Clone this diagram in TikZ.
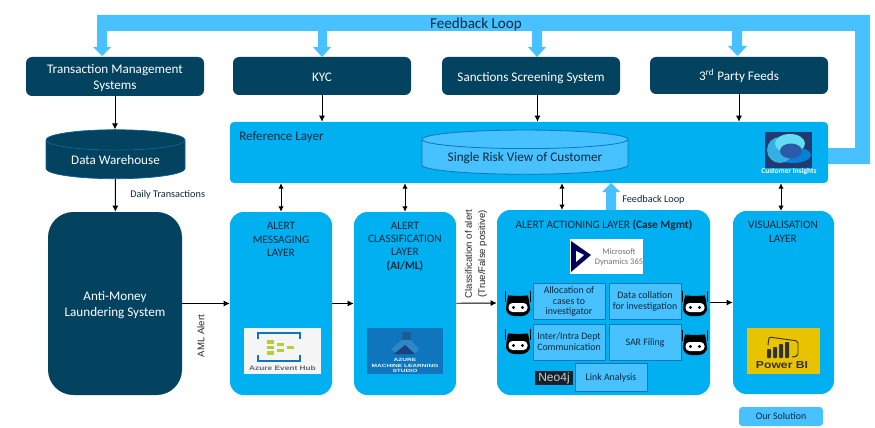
\documentclass[tikz,border=0pt]{standalone}
\usepackage{fontspec}
\setmainfont{Carlito}
\newfontfamily\arialfont{Liberation Sans}
\usetikzlibrary{shapes.geometric,arrows.meta}
\definecolor{navybox}{HTML}{03435F}
\definecolor{layerblue}{HTML}{00B0F0}
\definecolor{loopblue}{HTML}{47C1FF}
\definecolor{edgeblue}{HTML}{0F75BD}
\definecolor{labeltext}{HTML}{10283A}
\definecolor{cloudback}{HTML}{203A72}
\definecolor{cloudlow}{HTML}{0A7FD8}
\definecolor{cloudleft}{HTML}{34B0E5}
\definecolor{cloudtop}{HTML}{63DDF3}
\definecolor{cloudhole}{HTML}{2A5BA8}
\definecolor{neoback}{HTML}{14202C}
\definecolor{hubgreen}{HTML}{B5CF2E}
\definecolor{studiotop}{HTML}{1A5E98}
\definecolor{studioleft}{HTML}{2C86C8}
\definecolor{studiolow}{HTML}{1B3F80}
\definecolor{biyellow}{HTML}{E8C400}
\newcommand\dropped[2][1.5pt]{\raisebox{-#1}[\height][\depth]{\begin{tabular}{@{}c@{}}#2\end{tabular}}}
\tikzset{
  wh/.style 2 args={minimum width=#1*0.75pt, minimum height=#2*0.75pt, inner sep=0pt},
  sourcebox/.style={rectangle, rounded corners=4.5pt, fill=navybox, text=white, align=center, font=\fontsize{9.85}{12}\selectfont},
  layerbox/.style={rectangle, fill=layerblue},
  stepbox/.style={rectangle, fill=loopblue, draw=edgeblue, line width=0.7pt, align=center, text=labeltext, font=\fontsize{7.4}{7.9}\selectfont},
  title/.style={align=center, text=labeltext, inner sep=0pt, font=\fontsize{8.5}{10.1}\selectfont},
  note/.style={text=labeltext, inner sep=0pt, font=\fontsize{7.7}{9.6}\selectfont},
  sidenote/.style={text=black!85, inner sep=0pt, align=center, font=\arialfont\fontsize{7.2}{9.8}\selectfont},
  flow/.style={-{Latex[length=4.5pt,width=4.5pt]}, line width=0.7pt, black},
  both/.style={{Latex[length=4pt,width=4pt]}-{Latex[length=4pt,width=4pt]}, line width=0.7pt, black},
  fatarrow/.style={fill=loopblue, draw=none},
  logo/.style={rectangle, inner sep=0pt},
  bot/.pic={
    \draw[black, line width=0.7pt] (-12.5,-13) -- (-12.5,-2);
    \draw[black, line width=0.7pt] (12.5,-13) -- (12.5,-2);
    \fill[black, rounded corners=6pt] (-12,12) -- (-12,-1) .. controls (-10,-8) and (10,-8) .. (12,-1) -- (12,12) -- cycle;
    \fill[white, rounded corners=3pt] (-9.5,-1) rectangle (9.5,8);
    \fill[black] (-4.5,3.5) circle (1.6);
    \fill[black] (4.5,3.5) circle (1.6);
  }
}
\begin{document}
\begin{tikzpicture}[x=0.75pt,y=-0.75pt]
  \useasboundingbox (0,0) rectangle (875,428);

  \fill[fatarrow] (97,15) -- (870,15) -- (870,164) -- (828,164) -- (828,148) -- (855,148) -- (855,31) -- (97,31) -- cycle;
  \fill[fatarrow] (97,31) -- (107,31) -- (107,47) -- (111,47) -- (102,56) -- (93,47) -- (97,47) -- cycle;
  \fill[fatarrow] (318,31) -- (327,31) -- (327,47) -- (331,47) -- (322,57) -- (313,47) -- (318,47) -- cycle;
  \fill[fatarrow] (532,31) -- (542,31) -- (542,47) -- (546,47) -- (537,57) -- (528,47) -- (532,47) -- cycle;
  \fill[fatarrow] (732,31) -- (742,31) -- (742,46) -- (747,46) -- (737.5,56) -- (728,46) -- (732,46) -- cycle;
  \node[note, font=\fontsize{11.3}{12}\selectfont] (looplabel) at (476,24) {Feedback Loop};

  \node[sourcebox, wh={178}{39}] (tms) at (115,76.5) {\dropped{Transaction Management\\Systems}};
  \node[sourcebox, wh={178}{38}] (kyc) at (322,76) {\dropped{KYC}};
  \node[sourcebox, wh={178}{38}] (sanctions) at (531,76) {\dropped{Sanctions Screening System}};
  \node[sourcebox, wh={178}{37}] (feeds) at (739,75.5) {\dropped{3\textsuperscript{rd} Party Feeds}};

  \node[cylinder, shape border rotate=90, aspect=0.23, cylinder uses custom fill, cylinder body fill=navybox, cylinder end fill=navybox, draw=edgeblue!60!navybox, line width=0.5pt, text=white, wh={139}{49}, font=\fontsize{9.85}{12}\selectfont] (warehouse) at (115.5,159.5) {Data Warehouse};
  \node[rectangle, rounded corners=19pt, fill=navybox, text=white, align=center, wh={134}{183}, font=\fontsize{9.85}{12}\selectfont] (aml) at (115,303.5) {\dropped{Anti-Money\\Laundering System}};

  \node[layerbox, rounded corners=3pt, wh={598}{61}] (reference) at (529,152.5) {};
  \node[note, anchor=west, font=\fontsize{9.8}{10}\selectfont] (reflabel) at (239,137) {Reference Layer};
  \node[cylinder, shape border rotate=90, aspect=0.12, cylinder uses custom fill, cylinder body fill=loopblue, cylinder end fill=loopblue, draw=edgeblue, line width=0.6pt, text=labeltext, wh={206}{39}, font=\fontsize{9.9}{12}\selectfont] (riskview) at (525,157) {\dropped[0.75pt]{Single Risk View of Customer}};

  \node[logo, fill=cloudback, wh={47}{36}] (insights) at (788.5,150) {};
  \fill[cloudlow] (793,155) ellipse (18 and 8);
  \fill[cloudleft] (780,150) circle (13);
  \fill[cloudtop] (790,143.5) ellipse (15 and 9.5);
  \fill[cloudhole] (791,151) ellipse (11 and 7.5);
  \node[inner sep=0pt, text=white, font=\bfseries\fontsize{5.6}{6}\selectfont] (insightslabel) at (789,172) {Customer Insights};

  \node[layerbox, rounded corners=10pt, wh={102}{183}] (messaging) at (281,303.5) {};
  \node[layerbox, rounded corners=10pt, wh={102}{183}] (classification) at (405,303.5) {};
  \node[layerbox, rounded corners=10pt, wh={213}{185}] (actioning) at (603.5,302.5) {};
  \node[layerbox, rounded corners=10pt, wh={101}{183}] (visual) at (783.5,302.5) {};
  \node[title] (msgtitle) at (281,239.5) {ALERT\\MESSAGING\\LAYER};
  \node[title, anchor=north] (classtitle) at (405,221.5) {ALERT\\CLASSIFICATION\\LAYER\\\textbf{(AI/ML)}};
  \node[title] (acttitle) at (604,225) {ALERT ACTIONING LAYER \textbf{(Case Mgmt)}};
  \node[title] (vistitle) at (783,232) {VISUALISATION\\LAYER};

  \node[stepbox, wh={72}{36}] (allocation) at (569,301) {\dropped[0.75pt]{Allocation of\\cases to\\investigator}};
  \node[stepbox, wh={72}{36}] (collation) at (645,301) {\dropped[0.75pt]{Data collation\\for investigation}};
  \node[stepbox, wh={72}{36}] (inter) at (569,342) {\dropped[0.75pt]{Inter/Intra Dept\\Communication}};
  \node[stepbox, wh={72}{36}] (sar) at (645,342) {\dropped[0.75pt]{SAR Filing}};
  \node[stepbox, wh={72}{28}] (link) at (611,377) {\dropped[0.75pt]{Link Analysis}};
  \node[logo, fill=neoback, text=white!80!black, wh={38}{14}, font=\arialfont\fontsize{9}{10}\selectfont] (neo) at (554,378) {Neo4j};

  \pic at (518,304) {bot};
  \pic at (518,342) {bot};
  \pic at (695,304) {bot};
  \pic at (695,343) {bot};

  \node[logo, fill=white, wh={73}{35}] (dynamics) at (606.5,256.5) {};
  \fill[blue!35!black] (571,241) -- (591,255) -- (571,272) -- cycle;
  \fill[white] (576,251) -- (584,255) -- (576,262) -- cycle;
  \node[inner sep=0pt, align=center, text=black!55, font=\fontsize{6.4}{7.6}\selectfont] (dynlabel) at (619,257) {Microsoft\\Dynamics 365};

  \node[logo, fill=black!4, wh={77}{46}] (eventhub) at (282.5,351) {};
  \draw[edgeblue, line width=2.2pt] (258,339) -- (258,333) -- (300,333) -- (300,339);
  \draw[edgeblue, line width=2.2pt] (258,355) -- (258,361) -- (300,361) -- (300,355);
  \foreach \hx/\hy in {267/340,267/345.5,267/351,277/342.5,277/348.5,287/345.5}
    \fill[hubgreen] (\hx,\hy) rectangle ++(7,3.6);
  \node[inner sep=0pt, text=black!60, xscale=1.3, font=\arialfont\bfseries\fontsize{4.8}{6}\selectfont] (hublabel) at (282.5,368.5) {Azure Event Hub};

  \node[logo, fill=edgeblue, wh={76}{46}] (studio) at (405,351) {};
  \fill[studiotop] (402,332) rectangle (411,341);
  \fill[studioleft] (402,340) -- (391,349) -- (397,354) -- (405,345) -- (415,354) -- (419,349) -- (411,340) -- cycle;
  \fill[studiolow] (394,354) -- (405,345) -- (415,354) -- cycle;
  \node[inner sep=0pt, align=center, text=white!90!cyan, xscale=1.45, font=\arialfont\bfseries\fontsize{3.4}{3.8}\selectfont] (studiolabel) at (405,365.5) {AZURE\\MACHINE LEARNING\\STUDIO};

  \node[logo, fill=biyellow, wh={73}{46}] (powerbi) at (783.5,351) {};
  \draw[black!80, line width=0.7pt, rounded corners=1.5pt] (768,345) -- (769,337) -- (798,341) -- (798,356) -- (792,357);
  \foreach \bx/\by in {767/349,773/347,779/344,785/342}
    \fill[black!80, rounded corners=0.6pt] (\bx,\by) rectangle (\bx+4,358);
  \node[inner sep=0pt, text=black!80, xscale=1.2, font=\arialfont\bfseries\fontsize{7.6}{9}\selectfont] (bilabel) at (782,365.5) {Power BI};

  \node[rectangle, rounded corners=2.5pt, fill=loopblue, text=labeltext, wh={84}{19}, font=\fontsize{7.4}{9}\selectfont] (solution) at (781,416.5) {Our Solution};

  \coordinate (sanctionsout) at (537.5,95);
  \coordinate (actionup) at (562,210);
  \coordinate (visualup) at (781,211);
  \draw[flow] (tms) -- (tms |- warehouse.north);
  \draw[flow] (warehouse) -- (aml);
  \draw[flow] (kyc) -- (kyc |- reference.north);
  \draw[flow] (sanctionsout) -- (sanctionsout |- reference.north);
  \draw[flow] (feeds) -- (feeds |- reference.north);
  \draw[flow] (aml) -- (messaging);
  \draw[flow] (messaging) -- (classification);
  \draw[flow] (classification) -- (actioning);
  \draw[flow] (actioning) -- (visual);
  \draw[both] (messaging) -- (messaging |- reference.south);
  \draw[both] (classification) -- (classification |- reference.south);
  \draw[both] (actionup) -- (actionup |- reference.south);
  \draw[both] (visualup) -- (visualup |- reference.south);

  \fill[fatarrow] (606,210) -- (616,210) -- (616,192) -- (620,192) -- (611,183) -- (602,192) -- (606,192) -- cycle;
  \node[note, anchor=west] (fblabel) at (622,200) {Feedback Loop};
  \node[note, anchor=west] (daily) at (130,194.5) {Daily Transactions};
  \node[sidenote, rotate=90] (amlalert) at (201,336) {AML Alert};
  \node[sidenote, rotate=90] (classalert) at (476,254) {Classification of alert\\(True/False positive)};
\end{tikzpicture}
\end{document}
